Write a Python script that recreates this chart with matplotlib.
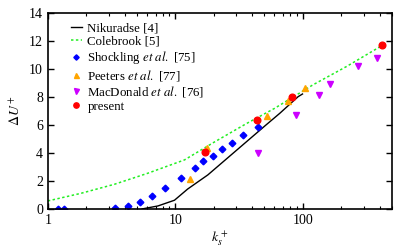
import matplotlib
matplotlib.use("Agg")
import matplotlib.pyplot as plt
from matplotlib.ticker import LogLocator, NullFormatter, FixedLocator

plt.rcParams['font.family'] = ['Liberation Serif', 'DejaVu Serif']
plt.rcParams['mathtext.fontset'] = 'stix'
plt.rcParams['font.size'] = 9

# Nikuradse [4]
nik_x = [5.5, 7.3, 9.85, 12.5, 18.0, 51.5, 66.0, 92.0, 99.5]
nik_y = [0.0, 0.21, 0.62, 1.42, 2.43, 6.0, 6.83, 8.02, 8.21]

# Colebrook [5]
col_x = [1.0, 1.83, 3.33, 6.09, 11.8, 20.0, 36.2, 60.0, 120.0, 220.0, 422.0]
col_y = [0.57, 1.12, 1.76, 2.55, 3.5, 4.75, 6.1, 7.18, 8.86, 10.17, 11.69]

# Shockling et al. [75]
sho_x = [1.20, 1.34, 3.37, 4.24, 5.30, 6.54, 8.32, 11.1, 14.2, 16.6, 19.6, 23.4, 27.9, 34.0, 44.6]
sho_y = [0.0, 0.0, 0.05, 0.19, 0.5, 0.9, 1.5, 2.24, 2.93, 3.43, 3.81, 4.31, 4.74, 5.26, 5.86]

# Peeters et al. [77]
pee_x = [13.1, 17.6, 52.5, 77.2, 104.0]
pee_y = [2.16, 4.35, 6.67, 7.71, 8.67]

# MacDonald et al. [76]
mac_x = [44.6, 88.6, 133.0, 164.0, 273.0, 380.0]
mac_y = [4.02, 6.69, 8.12, 8.93, 10.24, 10.81]

# present
pre_x = [17.0, 43.8, 83.0, 422.0]
pre_y = [4.07, 6.38, 8.0, 11.69]

fig = plt.figure(figsize=(4.16, 2.49), dpi=100)
ax = fig.add_axes([0.115, 0.161, 0.827, 0.787])

ax.plot(nik_x, nik_y, color='black', lw=1.0, label='Nikuradse [4]')
ax.plot(col_x, col_y, color='#22ee22', lw=1.1, ls=(0, (1.6, 1.6)), label='Colebrook [5]')
ax.plot(sho_x, sho_y, ls='none', marker='D', ms=3.4, color='#0000ff', label=r'Shockling $et\ al.$ [75]')
ax.plot(pee_x, pee_y, ls='none', marker='^', ms=4.5, color='#ffa500', label=r'Peeters $et\ al.$ [77]')
ax.plot(mac_x, mac_y, ls='none', marker='v', ms=4.5, color='#cc00ff', label=r'MacDonald $et\ al.$ [76]')
ax.plot(pre_x, pre_y, ls='none', marker='o', ms=4.8, color='#ff0000', label='present')

ax.set_xscale('log')
ax.set_xlim(1, 500)
ax.set_ylim(0, 14)
ax.set_yticks([0, 2, 4, 6, 8, 10, 12, 14])
ax.xaxis.set_major_locator(FixedLocator([1, 10, 100]))
ax.set_xticklabels(['1', '10', '100'])
ax.xaxis.set_minor_locator(LogLocator(base=10, subs=range(2, 10)))
ax.xaxis.set_minor_formatter(NullFormatter())
ax.tick_params(which='both', direction='in', top=True, right=True)
ax.tick_params(which='major', length=4, width=1)
ax.tick_params(which='minor', length=2, width=0.8)
ax.tick_params(axis='both', labelsize=10)
for s in ax.spines.values():
    s.set_linewidth(1.2)

ax.set_xlabel(r'$k_s^+$', fontsize=10, labelpad=2)
ax.set_ylabel(r'$\Delta U^+$', fontsize=10, labelpad=4)

ax.legend(loc='upper left', frameon=False, fontsize=9.3, handlelength=0.9,
          handletextpad=0.4, labelspacing=0.12, borderaxespad=0.3,
          markerscale=0.8, bbox_to_anchor=(0.04, 1.0))

fig.savefig('out.png', dpi=100)
